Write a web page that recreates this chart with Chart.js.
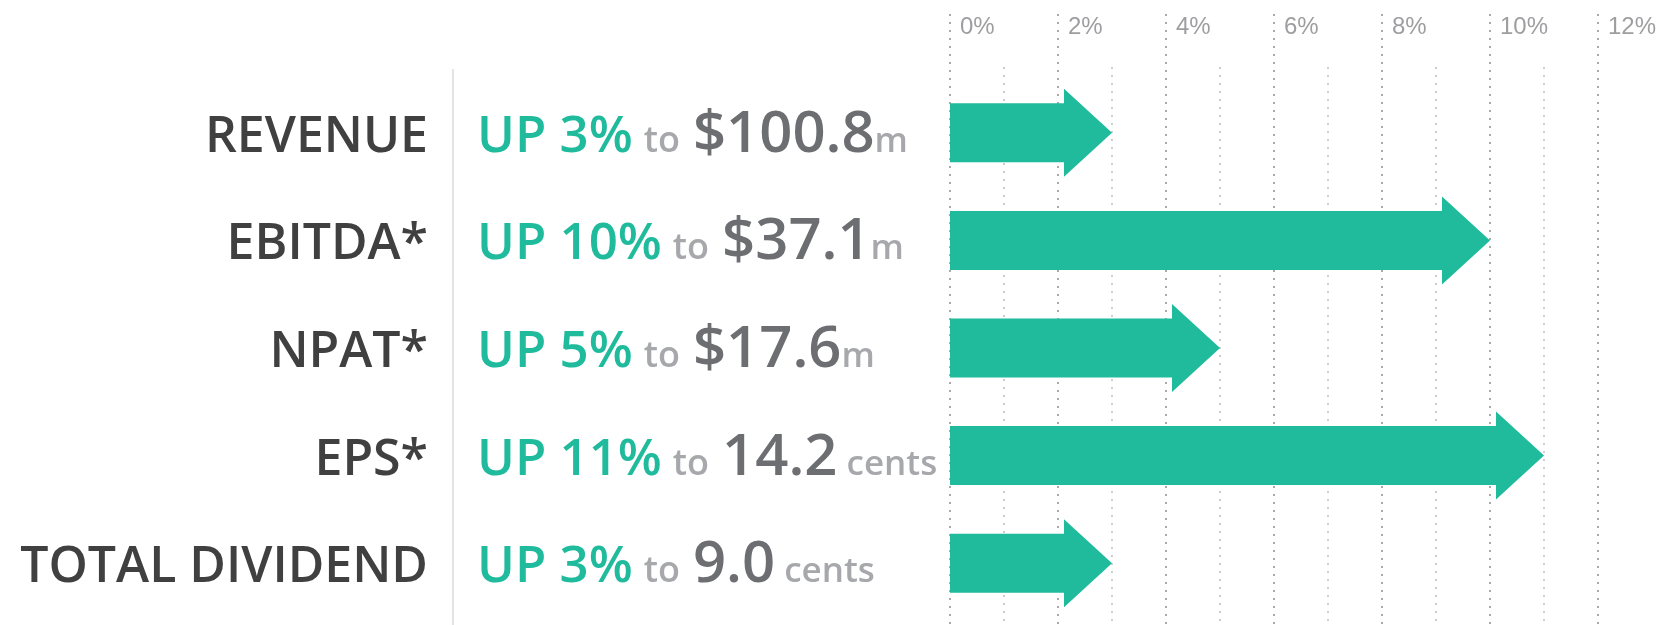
<!DOCTYPE html>
<html lang="en">
<head>
    <meta charset="UTF-8">
    <title>Results summary</title>
    <script src="https://cdn.jsdelivr.net/npm/chart.js"></script>
    <style>
        html, body { margin: 0; padding: 0; background: #fff; }
        .chart-box { position: relative; width: 1659px; height: 625px; }
    </style>
</head>
<body>

<div class="chart-box"><canvas id="resultsChart"></canvas></div>

<script>
    // data
    const categories = ["REVENUE", "EBITDA*", "NPAT*", "EPS*", "TOTAL DIVIDEND"];
    const growth = [3, 10, 5, 11, 3];              // % increase (arrow length)
    const amounts = ["$100.8", "$37.1", "$17.6", "14.2", "9.0"];
    const units = ["m", "m", "m", " cents", " cents"];
    const tickMax = 12;

    const TEAL = "#1fbb9c";
    const FONT = '"Open Sans", "Noto Sans", sans-serif';

    // dotted vertical grid, darker on the labelled (even) ticks
    const dottedGrid = {
        id: "dottedGrid",
        beforeDatasetsDraw(chart) {
            const { ctx, scales: { x } } = chart;
            ctx.save();
            ctx.lineWidth = 2;
            ctx.setLineDash([2, 6]);
            x.ticks.forEach(t => {
                const px = Math.round(x.getPixelForValue(t.value));
                const major = t.value % 2 === 0;
                ctx.strokeStyle = major ? "#a9a9a9" : "#cdcdcd";
                ctx.beginPath();
                ctx.moveTo(px, major ? 14 : 67);
                ctx.lineTo(px, chart.height);
                ctx.stroke();
            });
            ctx.restore();
        }
    };

    // bars drawn as arrows, tip on the value
    const arrowBars = {
        id: "arrowBars",
        beforeDatasetDraw(chart, args) {
            const ctx = chart.ctx;
            args.meta.data.forEach(bar => {
                const { x, y, base, height } = bar.getProps(["x", "y", "base", "height"], true);
                const half = height / 2, headLen = 48, headHalf = 44;
                const neck = x - headLen;
                ctx.save();
                ctx.fillStyle = bar.options.backgroundColor;
                ctx.beginPath();
                ctx.moveTo(base, y - half);
                ctx.lineTo(neck, y - half);
                ctx.lineTo(neck, y - headHalf);
                ctx.lineTo(x, y);
                ctx.lineTo(neck, y + headHalf);
                ctx.lineTo(neck, y + half);
                ctx.lineTo(base, y + half);
                ctx.closePath();
                ctx.fill();
                ctx.restore();
            });
            return false;
        }
    };

    // left columns: category name + "UP x% to value unit"
    const rowText = {
        id: "rowText",
        afterDraw(chart) {
            const { ctx, scales: { y }, chartArea } = chart;
            ctx.save();
            ctx.strokeStyle = "#e4e4e4";
            ctx.lineWidth = 2;
            ctx.beginPath();
            ctx.moveTo(453, chartArea.top - 10);
            ctx.lineTo(453, chart.height);
            ctx.stroke();

            ctx.textBaseline = "alphabetic";
            categories.forEach((cat, i) => {
                const baseY = y.getPixelForValue(i) + 19;

                ctx.textAlign = "right";
                ctx.font = "600 50px " + FONT;
                ctx.fillStyle = "#404041";
                ctx.fillText(cat, 428, baseY);

                ctx.textAlign = "left";
                const pieces = [
                    { text: "UP " + growth[i] + "%", font: "600 51px " + FONT, color: TEAL, gap: 11 },
                    { text: "to", font: "600 36px " + FONT, color: "#a7a8ab", gap: 13 },
                    { text: amounts[i], font: "600 58px " + FONT, color: "#6d6e71", gap: 0 },
                    { text: units[i], font: "600 35px " + FONT, color: "#a7a8ab", gap: 0 }
                ];
                let cx = 477;
                pieces.forEach(p => {
                    ctx.font = p.font;
                    ctx.fillStyle = p.color;
                    ctx.fillText(p.text, cx, baseY);
                    cx += ctx.measureText(p.text).width + p.gap;
                });
            });
            ctx.restore();
        }
    };

    new Chart(document.getElementById("resultsChart"), {
        type: "bar",
        data: {
            labels: categories,
            datasets: [{
                data: growth,
                backgroundColor: TEAL,
                barThickness: 59
            }]
        },
        options: {
            indexAxis: "y",
            responsive: true,
            maintainAspectRatio: false,
            animation: false,
            layout: { padding: { left: 950, right: 61, top: 15, bottom: 8 } },
            plugins: { legend: { display: false }, tooltip: { enabled: false } },
            scales: {
                x: {
                    position: "top",
                    min: 0,
                    max: tickMax,
                    grid: { display: false, drawTicks: false },
                    border: { display: false },
                    ticks: {
                        stepSize: 1,
                        autoSkip: false,
                        maxRotation: 0,
                        align: "start",
                        labelOffset: 10,
                        padding: 37,
                        color: "#9e9ea1",
                        font: { family: '"Liberation Sans", Arial, sans-serif', size: 24 },
                        callback: v => (v % 2 === 0 ? v + "%" : "")
                    },
                    afterFit(scale) {
                        scale.height = 64;
                        scale.paddingLeft = 0;
                        scale.paddingRight = 0;
                    }
                },
                y: { display: false }
            }
        },
        plugins: [dottedGrid, arrowBars, rowText]
    });
</script>

</body>
</html>
